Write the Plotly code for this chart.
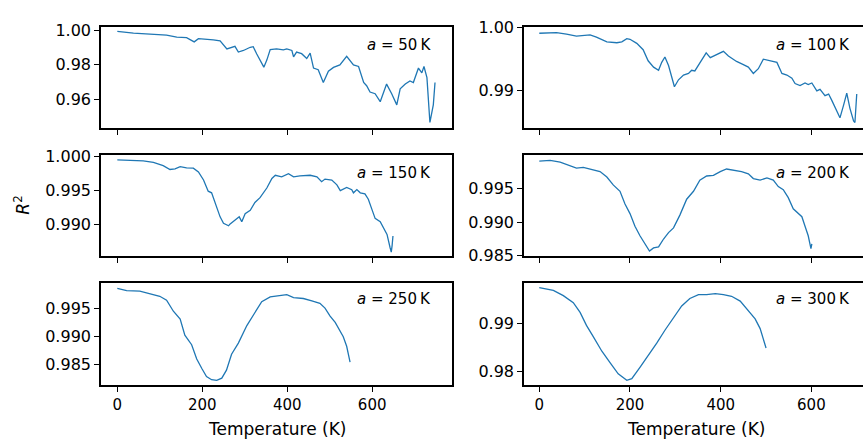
import plotly.graph_objects as go

# ---- data ----
A_VALUES = [50, 100, 150, 200, 250, 300]

T50 = [0, 38, 77, 116, 140, 163, 181, 191, 226, 242, 258, 277, 285, 297, 313, 320, 328, 345, 352, 360,
       375, 391, 399, 411, 415, 422, 434, 446, 454, 462, 473, 485, 497, 509, 524, 540, 556, 568, 580, 587,
       595, 607, 619, 627, 634, 646, 658, 666, 678, 689, 697, 709, 717, 722, 729, 736, 740, 744, 748]
R50 = [0.99944, 0.99833, 0.99778, 0.99722, 0.99611, 0.99574, 0.99333, 0.99519, 0.99444, 0.99389,
       0.98926, 0.99074, 0.98741, 0.98833, 0.99019, 0.99056, 0.98648, 0.97870, 0.98278, 0.98889,
       0.98926, 0.98870, 0.98926, 0.98833, 0.98463, 0.98741, 0.98648, 0.98370, 0.98685, 0.97815,
       0.97722, 0.96981, 0.97630, 0.97852, 0.98000, 0.98500, 0.98000, 0.97907, 0.96981, 0.96796,
       0.96426, 0.96333, 0.95870, 0.96426, 0.96889, 0.96333, 0.95685, 0.96611, 0.96889, 0.97074,
       0.96981, 0.97815, 0.97537, 0.97907, 0.97259, 0.94667, 0.95315, 0.95685, 0.96981]

T100 = [0, 16, 38, 60, 82, 112, 126, 149, 171, 182, 193, 200, 215, 229, 240, 252, 263, 270, 277, 285,
        292, 298, 307, 318, 329, 336, 343, 354, 368, 377, 391, 406, 417, 435, 450, 461, 472, 483, 494, 509,
        524, 535, 546, 557, 564, 575, 586, 593, 601, 612, 619, 630, 638, 645, 656, 663, 671, 678, 685, 693,
        696, 700]
R100 = [0.99910, 0.99915, 0.99920, 0.99895, 0.99865, 0.99885, 0.99850, 0.99775, 0.99760, 0.99775,
        0.99825, 0.99815, 0.99750, 0.99650, 0.99475, 0.99375, 0.99325, 0.99450, 0.99535, 0.99400,
        0.99200, 0.99065, 0.99175, 0.99250, 0.99275, 0.99325, 0.99315, 0.99450, 0.99600, 0.99525,
        0.99575, 0.99625, 0.99550, 0.99465, 0.99415, 0.99375, 0.99275, 0.99350, 0.99500, 0.99475,
        0.99450, 0.99275, 0.99250, 0.99200, 0.99115, 0.99085, 0.99125, 0.99100, 0.99125, 0.99000,
        0.99025, 0.98925, 0.98950, 0.98850, 0.98675, 0.98575, 0.98775, 0.98965, 0.98725, 0.98525,
        0.98500, 0.98950]

T150 = [0, 22, 61, 85, 108, 124, 136, 148, 163, 179, 191, 203, 214, 222, 230, 242, 250, 262, 265, 273,
        281, 287, 293, 301, 313, 324, 336, 352, 364, 372, 387, 403, 415, 430, 454, 470, 481, 489, 505, 517,
        525, 540, 552, 556, 564, 572, 583, 591, 599, 607, 619, 627, 635, 642, 645, 647, 649]
R150 = [0.99953, 0.99948, 0.99939, 0.99915, 0.99868, 0.99811, 0.99821, 0.99854, 0.99835, 0.99830,
        0.99774, 0.99656, 0.99491, 0.99467, 0.99325, 0.99113, 0.99019, 0.98981, 0.99005, 0.99042,
        0.99075, 0.99113, 0.99042, 0.99160, 0.99208, 0.99325, 0.99396, 0.99538, 0.99679, 0.99726,
        0.99703, 0.99750, 0.99703, 0.99717, 0.99726, 0.99703, 0.99632, 0.99670, 0.99656, 0.99585,
        0.99500, 0.99547, 0.99514, 0.99467, 0.99514, 0.99467, 0.99453, 0.99373, 0.99231, 0.99090,
        0.99042, 0.98948, 0.98854, 0.98665, 0.98594, 0.98689, 0.98830]

T200 = [0, 24, 46, 68, 82, 97, 119, 134, 149, 163, 178, 189, 200, 211, 222, 233, 243, 252, 263, 274,
        285, 296, 310, 325, 340, 354, 369, 384, 399, 413, 432, 446, 461, 472, 487, 502, 516, 527, 538, 549,
        560, 571, 579, 586, 593, 599, 601]
R200 = [0.99912, 0.99922, 0.99898, 0.99841, 0.99808, 0.99818, 0.99780, 0.99756, 0.99675, 0.99557,
        0.99462, 0.99273, 0.99130, 0.98941, 0.98799, 0.98680, 0.98571, 0.98618, 0.98633, 0.98751,
        0.98846, 0.98917, 0.99107, 0.99344, 0.99462, 0.99628, 0.99690, 0.99699, 0.99756, 0.99794,
        0.99770, 0.99756, 0.99723, 0.99652, 0.99628, 0.99661, 0.99628, 0.99533, 0.99486, 0.99367,
        0.99201, 0.99130, 0.99083, 0.98941, 0.98799, 0.98609, 0.98680]

T250 = [0, 22, 53, 77, 100, 116, 132, 148, 159, 175, 187, 199, 210, 222, 234, 246, 257, 269, 285, 305,
        324, 340, 360, 383, 399, 415, 438, 458, 477, 489, 501, 513, 524, 532, 540, 544, 548]
R250 = [0.99864, 0.99824, 0.99813, 0.99767, 0.99722, 0.99653, 0.99455, 0.99313, 0.99028, 0.98858,
        0.98602, 0.98432, 0.98290, 0.98233, 0.98222, 0.98261, 0.98403, 0.98688, 0.98886, 0.99199,
        0.99426, 0.99625, 0.99710, 0.99739, 0.99750, 0.99699, 0.99682, 0.99642, 0.99597, 0.99511,
        0.99369, 0.99256, 0.99114, 0.99000, 0.98830, 0.98688, 0.98545]

T300 = [0, 16, 31, 53, 75, 90, 104, 119, 138, 156, 174, 193, 204, 222, 240, 259, 277, 296, 314, 332,
        351, 369, 388, 406, 424, 443, 461, 476, 487, 494, 500]
R300 = [0.99733, 0.99707, 0.99673, 0.99567, 0.99420, 0.99220, 0.98953, 0.98720, 0.98420, 0.98187,
        0.97953, 0.97820, 0.97853, 0.98087, 0.98320, 0.98587, 0.98853, 0.99120, 0.99353, 0.99507,
        0.99587, 0.99587, 0.99607, 0.99587, 0.99553, 0.99453, 0.99253, 0.99087, 0.98887, 0.98687,
        0.98487]

X_TICKS = [0, 200, 400, 600]
Y_TICKS = [
    [0.96, 0.98, 1.00],
    [0.99, 1.00],
    [0.990, 0.995, 1.000],
    [0.985, 0.990, 0.995],
    [0.985, 0.990, 0.995],
    [0.98, 0.99],
]
Y_FORMATS = [".2f", ".2f", ".3f", ".3f", ".3f", ".2f"]
Y_RANGES = [
    [0.9435, 1.0018],
    [0.98415, 1.00005],
    [0.98533, 1.00018],
    [0.98495, 0.99996],
    [0.98130, 0.99953],
    [0.97714, 0.99820],
]
SERIES = [(T50, R50), (T100, R100), (T150, R150), (T200, R200), (T250, R250), (T300, R300)]

# ---- layout geometry (pixels) ----
W, H = 863, 441
COL_X = [(101, 452), (524, 863)]
COL_XRANGE = [[-38.4, 788.0], [-33.7, 713.8]]
ROW_Y = [(19, 124), (152.7, 257.7), (286, 392.5)]
LABEL_RIGHT = [433, 852]
LABEL_Y = [37.5, 171, 302.5]

FONT = "DejaVu Sans"
LINE_COLOR = "#1f77b4"

fig = go.Figure()
layout = dict(
    width=W, height=H,
    margin=dict(l=0, r=0, t=0, b=0),
    paper_bgcolor="white", plot_bgcolor="white",
    showlegend=False,
    font=dict(family=FONT, color="black"),
)
annotations = []

for i, (a, (tx, ry)) in enumerate(zip(A_VALUES, SERIES)):
    row, col = divmod(i, 2)
    n = i + 1
    xs = "x" if n == 1 else f"x{n}"
    ys = "y" if n == 1 else f"y{n}"
    fig.add_trace(go.Scatter(x=tx, y=ry, mode="lines", xaxis=xs, yaxis=ys,
                             line=dict(color=LINE_COLOR, width=1.3)))
    x0, x1 = COL_X[col]
    y0, y1 = ROW_Y[row]
    bottom = row == 2
    layout[f"xaxis{'' if n == 1 else n}"] = dict(
        domain=[x0 / W, x1 / W], anchor=ys, range=COL_XRANGE[col],
        tickvals=X_TICKS, showticklabels=bottom,
        ticks="outside", ticklen=5, tickwidth=1, tickcolor="black",
        showline=True, linecolor="black", linewidth=1.6, mirror=True,
        showgrid=False, zeroline=False,
        tickfont=dict(family=FONT, size=15, color="black"),
    )
    layout[f"yaxis{'' if n == 1 else n}"] = dict(
        domain=[1 - y1 / H, 1 - y0 / H], anchor=xs, range=Y_RANGES[i],
        tickvals=Y_TICKS[i], tickformat=Y_FORMATS[i],
        ticks="outside", ticklen=5, tickwidth=1, tickcolor="black",
        showline=True, linecolor="black", linewidth=1.6, mirror=(col == 0),
        showgrid=False, zeroline=False,
        tickfont=dict(family=FONT, size=16, color="black"),
    )
    annotations.append(dict(
        text=f"<i>a</i> = {a}\u2009K", xref="paper", yref="paper",
        x=LABEL_RIGHT[col] / W, y=1 - LABEL_Y[row] / H,
        xanchor="right", yanchor="middle", showarrow=False,
        font=dict(family=FONT, size=15, color="black"),
    ))

for cx in (277, 696):
    annotations.append(dict(
        text="Temperature (K)", xref="paper", yref="paper",
        x=cx / W, y=1 - 438 / H, xanchor="center", yanchor="middle",
        showarrow=False, font=dict(family=FONT, size=17, color="black"),
    ))

annotations.append(dict(
    text="<i>R</i><sup>2</sup>", xref="paper", yref="paper",
    x=22 / W, y=1 - 205 / H, xanchor="center", yanchor="middle",
    textangle=-90, showarrow=False, font=dict(family=FONT, size=17, color="black"),
))

layout["annotations"] = annotations
fig.update_layout(**layout)
fig.write_html("out.html", config={"displayModeBar": False},
               post_script="document.body.style.margin='0';")
